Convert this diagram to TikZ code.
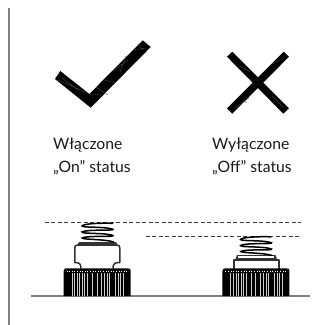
\documentclass[tikz,border=0pt]{standalone}
\usepackage{fontspec}
\setmainfont{Lato}
\definecolor{rule}{HTML}{808080}
\definecolor{ink}{HTML}{1A1A1A}
\definecolor{hatch}{HTML}{555555}
\tikzset{
  rulegrey/.style={draw=rule,line width=1.6pt},
  guide/.style={draw=ink!85,line width=.75pt,dash pattern=on 3.6pt off 2.9pt},
  label/.style={anchor=base west,inner sep=0pt,font=\fontsize{15.7}{18}\selectfont,text=ink},
  hatchline/.style={draw=hatch,line width=.35pt},
  coil/.style={line width=1.5pt,black,line cap=round},
  bodyline/.style={draw=black!80,line width=1.5pt,fill=white,line join=round}
}
% knob: left x
\newcommand{\knob}[1]{%
  \begin{scope}[shift={(#1,0)}]
    \fill[black] (0,296) -- (0,271) .. controls (0,269) and (1,268.3) .. (3,268.3) -- (64,268.3) .. controls (66,268.3) and (67,269) .. (67,271) -- (67,296) -- cycle;
    \foreach \x/\w in {8/.35,11/.45,13.5/.5,16/.55,18.5/.6,21/.5,24/.5,29/.4,33/.35,38/.4,41/.5,43.5/.55,46/.45,52/.4,54.5/.45,57/.45,59.5/.35}
      \draw[white!80!black,line width=\w pt] (\x,272.5) -- (\x,296);
    \draw[white,line width=.6pt,dash pattern=on .7pt off 1.9pt] (3,271) -- (64,271);
  \end{scope}}
% spring with upper left corner #1,#2
\newcommand{\spring}[2]{%
  \begin{scope}[shift={(#1,#2)}]
    \draw[coil] (31,.8) .. controls (18,.4) and (2,1.2) .. (.6,3.4)
      .. controls (-.4,5.4) and (24,3.8) .. (31.4,6.8)
      .. controls (34,8.4) and (6,6.6) .. (.6,9.4)
      .. controls (-1,11.6) and (24,10) .. (31.4,13)
      .. controls (33.6,14.8) and (6,12.8) .. (.8,15.4)
      .. controls (-.4,17.2) and (22,16.4) .. (32,19.4);
  \end{scope}}
\begin{document}
\begin{tikzpicture}[x=1pt,y=-1pt]
\useasboundingbox (0,0) rectangle (321,325);
\draw[rulegrey] (9,8) -- (9,325);
% check mark
\fill[black] (55,79) -- (60.3,71) -- (89.3,94) -- (142.7,40.3) -- (150.7,47) -- (90.7,107.7) -- cycle;
\draw[hatchline] (58,80) -- (85,92) (62,78) -- (78,90) (90,94.3) -- (102,94.3) (96,87) -- (108,95) (104,80) -- (116,83)
  (113,71) -- (128,60) (126,56) -- (120,72) (133,50) -- (146,48) (138,44) -- (143,50);
% cross
\fill[black] (227,56.7) -- (232.3,51.7) -- (289,108.3) -- (283.3,113.7) -- cycle;
\fill[black] (283.7,51.7) -- (289,56.7) -- (232.3,113.7) -- (227,108.3) -- cycle;
\draw[hatchline] (240,66) -- (250,72) (249,80) -- (268,80) (250,84) -- (267,84) (272,96) -- (284,108) (235,108) -- (249,98) (243,100) -- (247,103) (272,64) -- (280,60);
% labels
\node[label] (onA) at (53,149) {Włączone};
\node[label] (onB) at (53,172.7) {„On” status};
\node[label] (offA) at (212,149) {Wyłączone};
\node[label] (offB) at (212,172.7) {„Off” status};
% guides
\draw[guide] (45,222.7) -- (301,222.7);
\draw[guide] (146,236) -- (301,236);
% base line
\draw[rule,line width=1.2pt] (31,296) -- (310,296);
% left switch
\draw[bodyline] (81,268.5) .. controls (81,265) and (80,262.6) .. (76,262.6) -- (74.8,262.6) -- (74.8,248) .. controls (74.8,246) and (75.5,245.2) .. (77,245.2)
  -- (117.5,245.2) .. controls (119,245.2) and (119.8,246) .. (119.8,248) -- (119.8,262.6) -- (118,262.6) .. controls (114,262.6) and (113,265) .. (113,268.5);
\fill[black!80] (79,242) -- (116,242) -- (118,245.6) -- (77,245.6) -- cycle;
\spring{81.5}{222.5}
\knob{63.7}
% right switch
\draw[bodyline,line width=1.9pt] (234,268.5) -- (234,259.6) -- (278.6,259.6) -- (278.6,268.5);
\fill[black!80] (237,255) -- (275.5,255) -- (277,259.4) -- (235.5,259.4) -- cycle;
\fill[white] (238.5,256.2) rectangle (274,258.4);
\spring{240}{236}
\knob{222.5}
\end{tikzpicture}
\end{document}
